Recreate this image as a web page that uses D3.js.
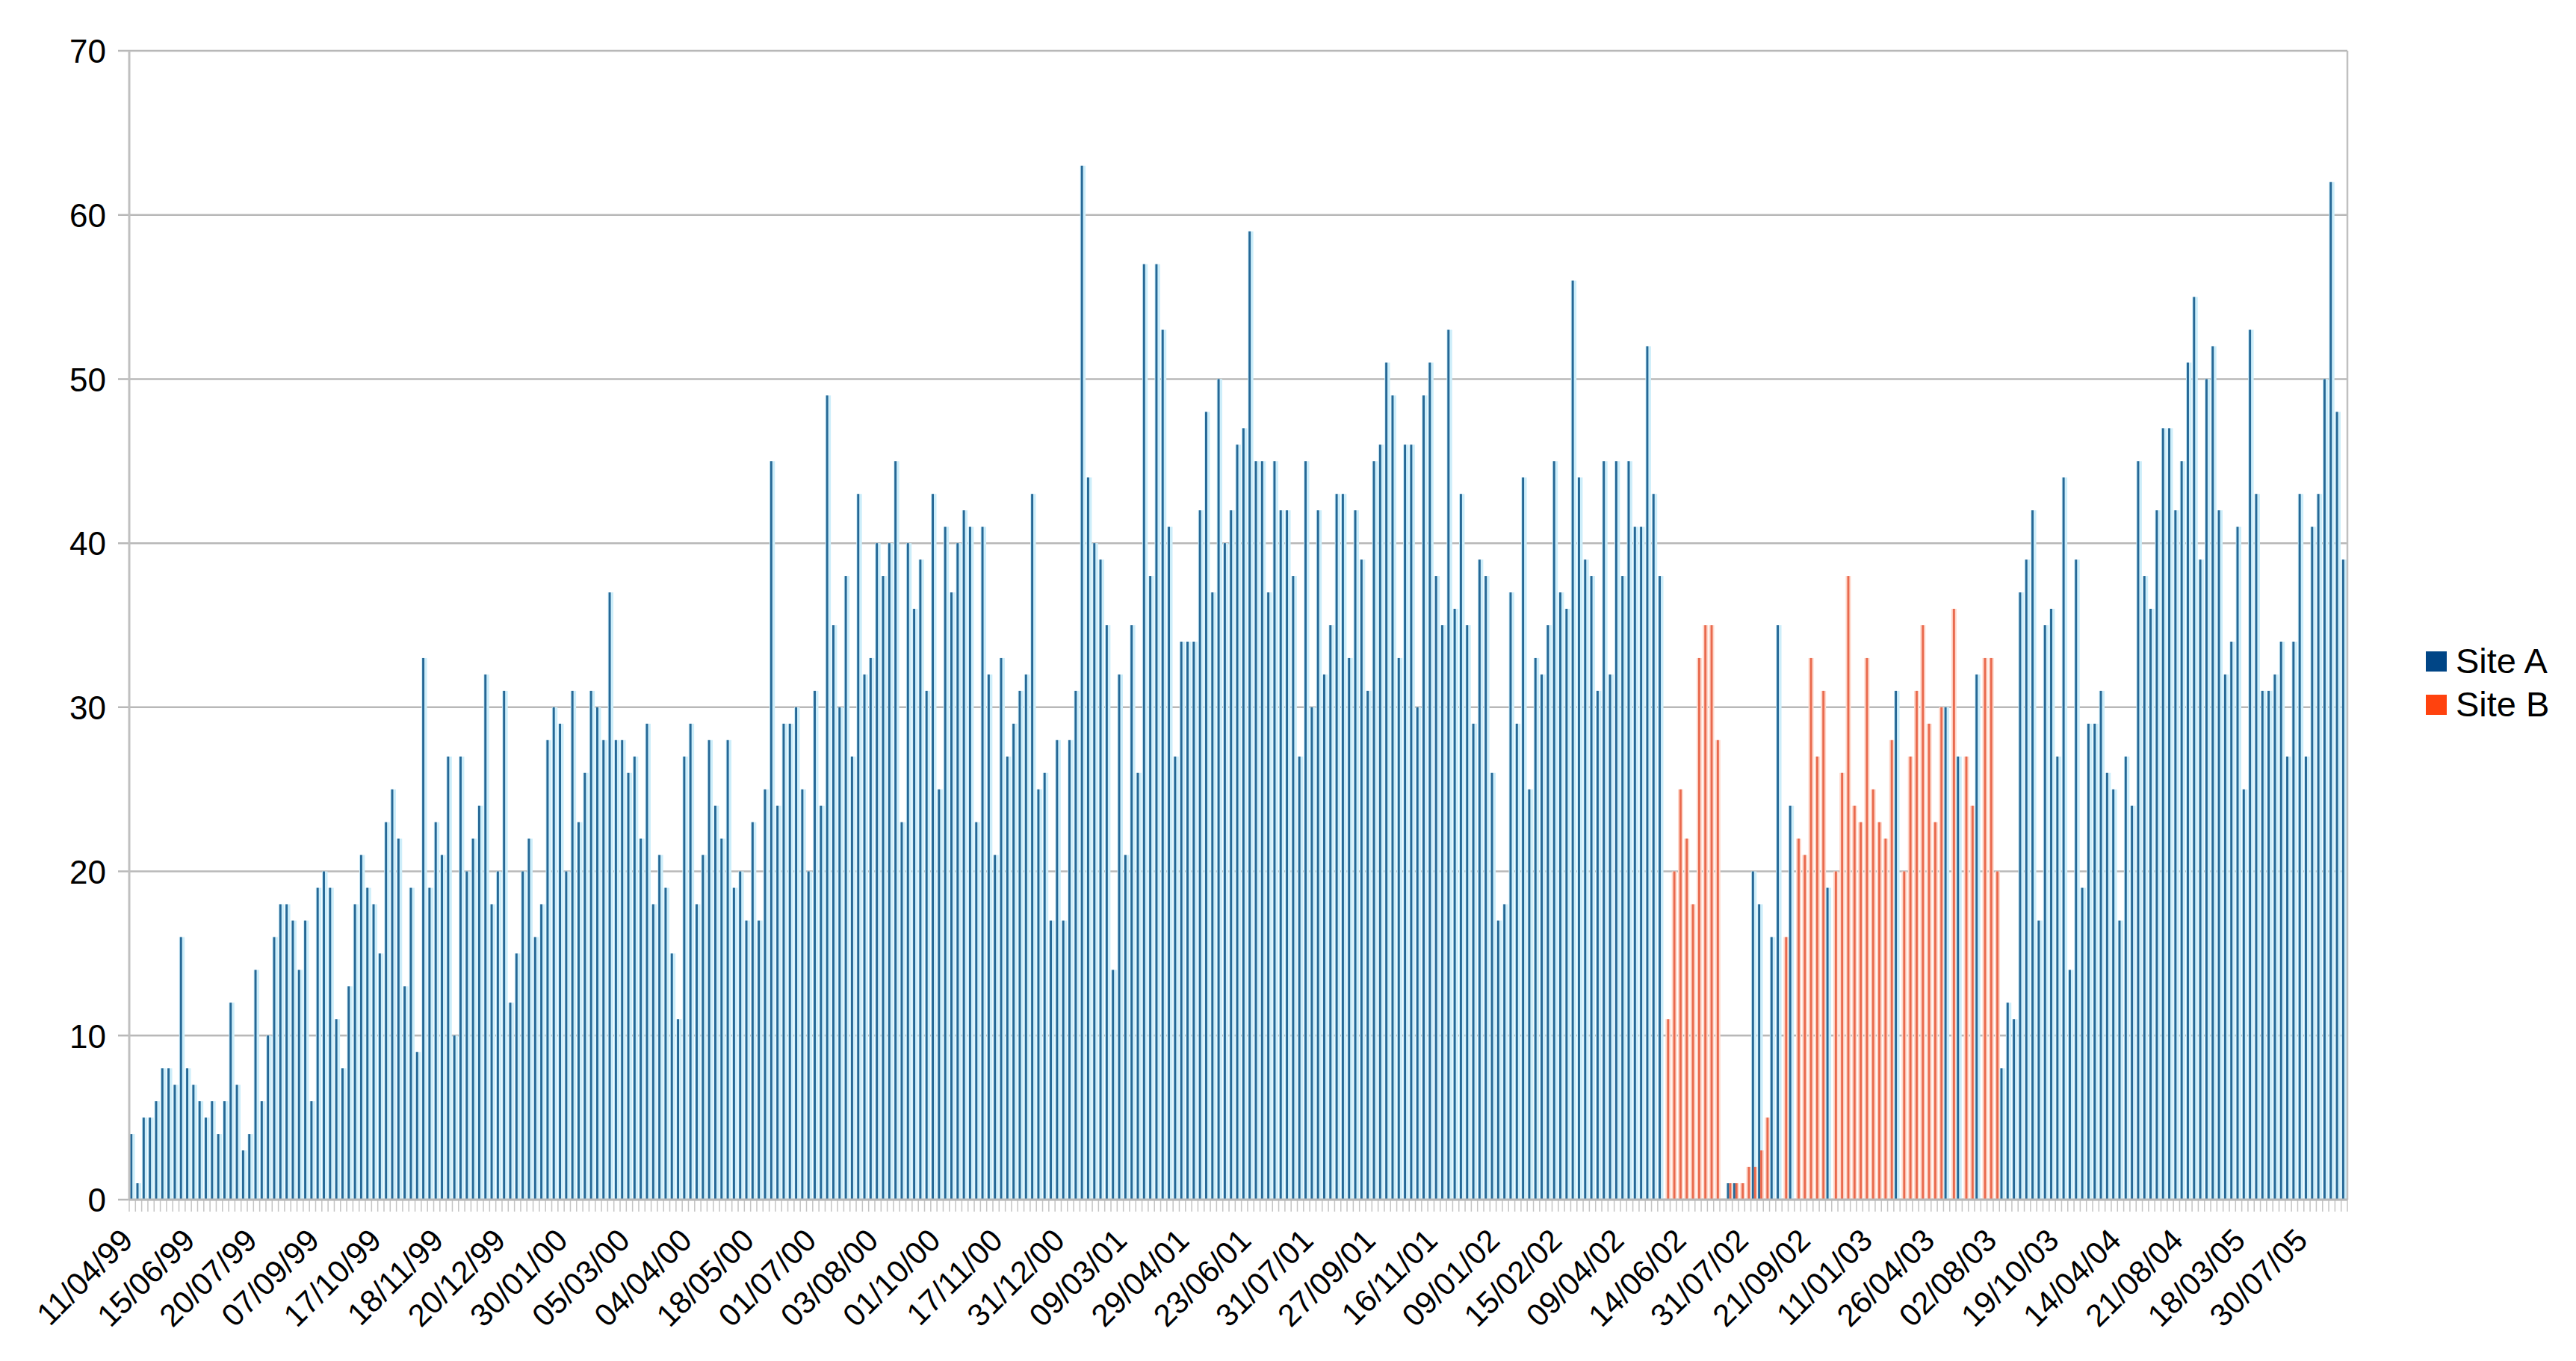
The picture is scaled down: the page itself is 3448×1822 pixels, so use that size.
<!DOCTYPE html>
<html>
<head>
<meta charset="utf-8">
<script src="https://cdn.jsdelivr.net/npm/d3@7"></script>
<style>
  html, body { margin: 0; padding: 0; background: #ffffff; }
  svg { display: block; }
  text { font-family: "Liberation Sans", Arial, sans-serif; fill: #000; }
</style>
</head>
<body>
<svg id="chart" width="3448" height="1822"></svg>
<script>
// ---- data (357 categories, a label every 10th) ----
const tickLabels = ["11/04/99","15/06/99","20/07/99","07/09/99","17/10/99","18/11/99","20/12/99",
  "30/01/00","05/03/00","04/04/00","18/05/00","01/07/00","03/08/00","01/10/00","17/11/00","31/12/00",
  "09/03/01","29/04/01","23/06/01","31/07/01","27/09/01","16/11/01","09/01/02","15/02/02","09/04/02",
  "14/06/02","31/07/02","21/09/02","11/01/03","26/04/03","02/08/03","19/10/03","14/04/04","21/08/04",
  "18/03/05","30/07/05"];

const seriesNames = ["Site A", "Site B"];

const siteA = [
  4,1,5,5,6,8,8,7,16,8,7,6,5,6,4,6,12,7,3,4,14,6,10,16,18,18,17,14,17,6,19,20,19,11,8,13,18,21,19,18,15,23,25,22,13,19,9,
  33,19,23,21,27,10,27,20,22,24,32,18,20,31,12,15,20,22,16,18,28,30,29,20,31,23,26,31,30,28,37,28,28,26,27,22,29,18,21,19,15,11,27,29,18,21,28,
  24,22,28,19,20,17,23,17,25,45,24,29,29,30,25,20,31,24,49,35,30,38,27,43,32,33,40,38,40,45,23,40,36,39,31,43,25,41,37,40,42,41,23,41,32,21,33,
  27,29,31,32,43,25,26,17,28,17,28,31,63,44,40,39,35,14,32,21,35,26,57,38,57,53,41,27,34,34,34,42,48,37,50,40,42,46,47,59,45,45,37,45,42,42,38,
  27,45,30,42,32,35,43,43,33,42,39,31,45,46,51,49,33,46,46,30,49,51,38,35,53,36,43,35,29,39,38,26,17,18,37,29,44,25,33,32,35,45,37,36,56,44,39,
  38,31,45,32,45,38,45,41,41,52,43,38,
  null,null,null,null,null,null,null,null,null,null,1,1,null,null,20,18,null,16,35,null,24,null,null,null,null,null,19,
  null,null,null,null,null,null,null,null,null,null,31,null,null,null,null,null,null,null,30,null,27,null,null,32,null,null,null,
  8,12,11,37,39,42,17,35,36,27,44,14,39,19,29,29,31,26,25,17,27,24,45,38,36,42,47,47,42,45,51,55,39,50,52,42,32,34,41,25,53,43,31,31,32,34,27,34,43,27,41,43,50,62,48,39
];

const siteB = [
  ...Array(247).fill(null),
  11,20,25,22,18,33,35,35,28,null,1,1,1,2,2,3,5,null,null,16,null,22,21,33,27,31,null,
  20,26,38,24,23,33,25,23,22,28,null,20,27,31,35,29,23,30,null,36,null,27,24,null,33,33,20,
  ...Array(56).fill(null)
];

const categories = siteA.map((_, i) => i);   // category index (date labels shown every 10th)

// ---- layout ----
const W = 3448, H = 1822;
const plotL = 173, plotR = 3142, plotT = 68, plotB = 1606;

const svg = d3.select("#chart");
svg.append("rect").attr("width", W).attr("height", H).attr("fill", "#fff");

const x0 = d3.scaleBand().domain(categories).range([plotL, plotR]).paddingInner(0.30).paddingOuter(0.15);
const x1 = d3.scaleBand().domain(["A", "B"]).range([0, x0.bandwidth()]);
const y = d3.scaleLinear().domain([0, 70]).range([plotB, plotT]);

const colors = { A: "#266896", B: "#e96a4e" };
const halo = { A: "#cdeefa", B: "#ffd8cb" };
const legendColors = { A: "#004586", B: "#ff420e" };

// gridlines (with stubs left of the axis)
const yTicks = d3.range(0, 71, 10);
svg.append("g").selectAll("line").data(yTicks).join("line")
  .attr("x1", plotL - 15).attr("x2", plotR)
  .attr("y1", d => y(d)).attr("y2", d => y(d))
  .attr("stroke", "#b8b8b8").attr("stroke-width", 2.5);

// x comb ticks below axis at category boundaries
const step = x0.step();
svg.append("g").selectAll("line").data(categories.concat([categories.length])).join("line")
  .attr("x1", d => plotL + d * step).attr("x2", d => plotL + d * step)
  .attr("y1", plotB).attr("y2", plotB + 16)
  .attr("stroke", "#c4c4c4").attr("stroke-width", 1.5);

// bars
const rows = [];
categories.forEach(i => {
  if (siteA[i] != null) rows.push({ cat: i, key: "A", v: siteA[i] });
  if (siteB[i] != null) rows.push({ cat: i, key: "B", v: siteB[i] });
});
const bw = x1.bandwidth();
const gBars = svg.append("g");
gBars.selectAll("rect.halo").data(rows).join("rect").attr("class", "halo")
  .attr("x", d => x0(d.cat) + x1(d.key) - (d.key === "A" ? 1 : 2))
  .attr("width", d => bw + (d.key === "A" ? 4.5 : 4))
  .attr("y", d => y(d.v)).attr("height", d => y(0) - y(d.v))
  .attr("fill", d => halo[d.key]);
gBars.selectAll("rect.bar").data(rows).join("rect").attr("class", "bar")
  .attr("x", d => x0(d.cat) + x1(d.key))
  .attr("width", bw)
  .attr("y", d => y(d.v)).attr("height", d => y(0) - y(d.v))
  .attr("fill", d => colors[d.key]);

// plot frame (left axis, right border, baseline)
svg.append("line").attr("x1", plotL).attr("x2", plotL).attr("y1", plotT).attr("y2", plotB + 1)
  .attr("stroke", "#c0c0c0").attr("stroke-width", 3);
svg.append("line").attr("x1", plotR).attr("x2", plotR).attr("y1", plotT).attr("y2", plotB)
  .attr("stroke", "#c0c0c0").attr("stroke-width", 2.5);
svg.append("line").attr("x1", plotL).attr("x2", plotR).attr("y1", plotB).attr("y2", plotB)
  .attr("stroke", "#b8b8b8").attr("stroke-width", 3);

// y axis labels
const yAxis = d3.axisLeft(y).tickValues(yTicks).tickSize(0).tickPadding(0);
const gy = svg.append("g").attr("transform", `translate(${plotL - 31},0)`).call(yAxis);
gy.select(".domain").remove();
gy.selectAll("text").attr("font-size", 44).attr("dy", "0.36em")
  .attr("font-family", "Liberation Sans, Arial, sans-serif").attr("fill", "#000");

// x axis labels (every 10th category)
const xAxis = d3.axisBottom(x0).tickValues(categories.filter(i => i % 10 === 0))
  .tickFormat(i => tickLabels[i / 10]).tickSize(0);
const gx = svg.append("g").attr("transform", `translate(0,${plotB})`).call(xAxis);
gx.select(".domain").remove();
gx.selectAll("text")
  .attr("y", 0).attr("dy", 0)
  .attr("transform", "translate(3,57) rotate(-45)")
  .attr("text-anchor", "end")
  .attr("font-size", 42)
  .attr("font-family", "Liberation Sans, Arial, sans-serif").attr("fill", "#000");

// legend
const legend = svg.append("g").attr("transform", "translate(3247,872)");
const li = legend.selectAll("g").data(["A", "B"]).join("g")
  .attr("transform", (d, i) => `translate(0,${i * 58})`);
li.append("rect").attr("width", 28).attr("height", 27).attr("fill", d => legendColors[d]);
li.append("text").attr("x", 40).attr("y", 29).attr("font-size", 47)
  .text((d, i) => seriesNames[i]);
</script>
</body>
</html>
